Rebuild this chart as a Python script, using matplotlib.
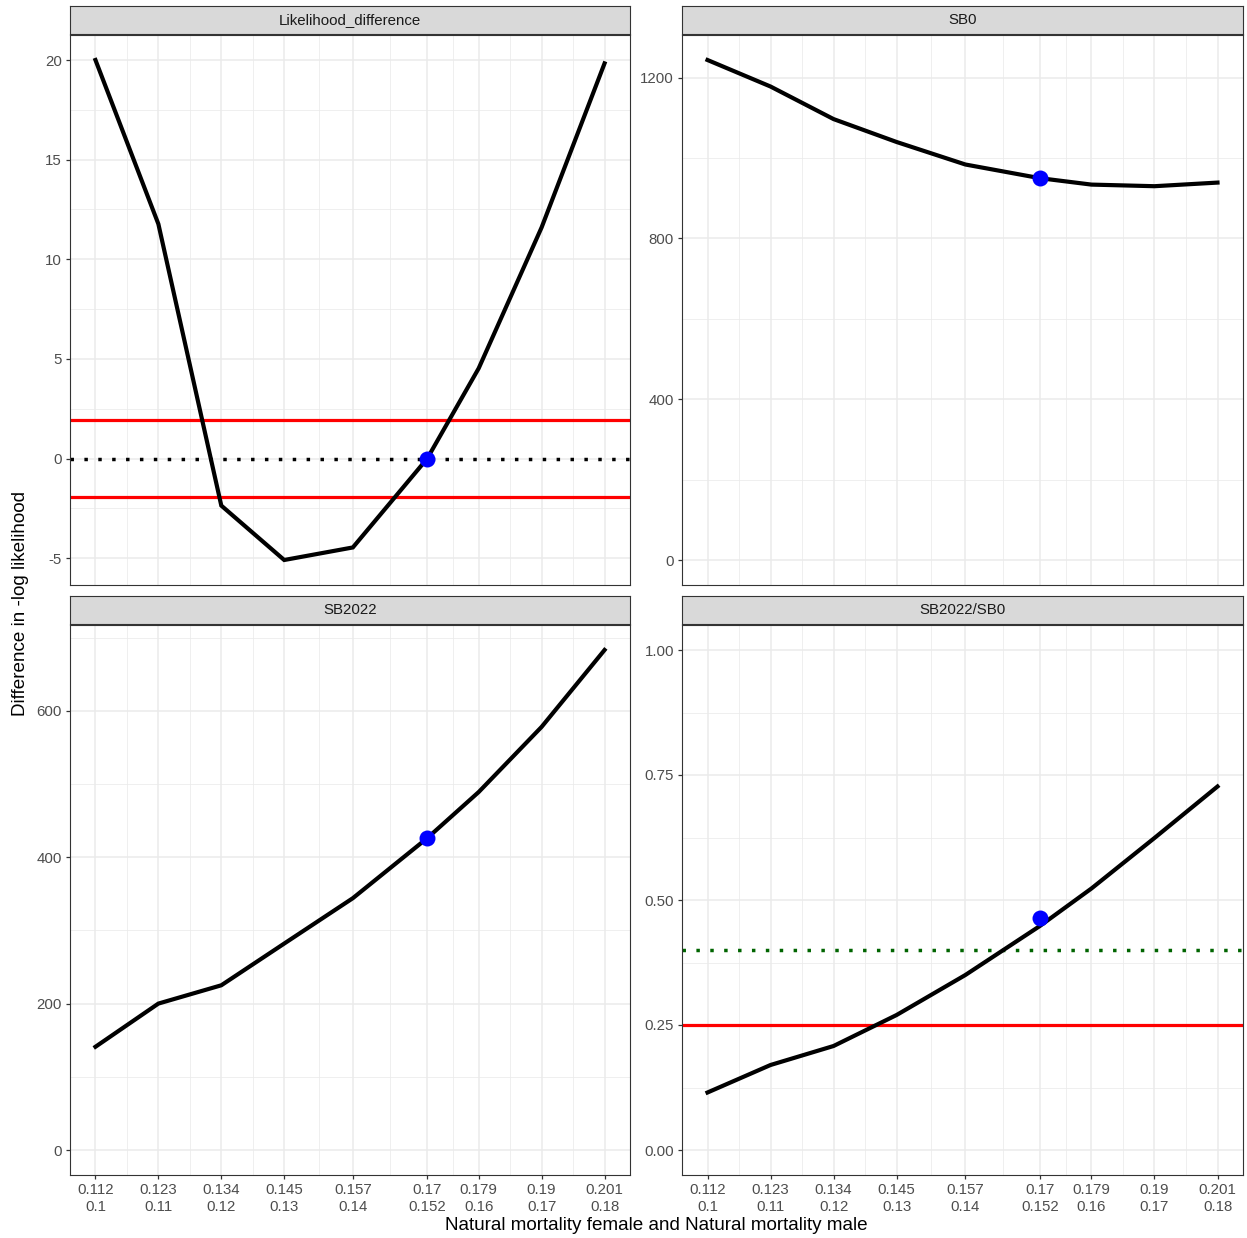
import numpy as np
import matplotlib
matplotlib.use("Agg")
import matplotlib.pyplot as plt
from matplotlib.ticker import FixedLocator, FixedFormatter

plt.rcParams['font.family'] = ['Liberation Sans', 'DejaVu Sans']

# ---------------- data ----------------
m_female = [0.112, 0.123, 0.134, 0.145, 0.157, 0.17, 0.179, 0.19, 0.201]
m_female_labels = ["0.112", "0.123", "0.134", "0.145", "0.157", "0.17", "0.179", "0.19", "0.201"]
m_male_labels = ["0.1", "0.11", "0.12", "0.13", "0.14", "0.152", "0.16", "0.17", "0.18"]

likelihood_diff = [20.0, 11.77, -2.36, -5.09, -4.46, 0.0, 4.53, 11.6, 19.83]
sb0 = [1244, 1178, 1097, 1040, 984, 950, 934, 930, 939]
sb2022 = [141, 200, 225, 282, 344, 426, 489, 578, 683]
sb_ratio = [0.115, 0.170, 0.208, 0.270, 0.350, 0.448, 0.523, 0.624, 0.727]

base_x = 0.17
base_values = {"Likelihood_difference": 0.0, "SB0": 950, "SB2022": 426, "SB2022/SB0": 0.464}

panel_titles = ["Likelihood_difference", "SB0", "SB2022", "SB2022/SB0"]
panel_series = [likelihood_diff, sb0, sb2022, sb_ratio]
y_breaks = [[-5, 0, 5, 10, 15, 20], [0, 400, 800, 1200], [0, 200, 400, 600],
            [0.0, 0.25, 0.5, 0.75, 1.0]]
y_break_labels = [["-5", "0", "5", "10", "15", "20"], ["0", "400", "800", "1200"],
                  ["0", "200", "400", "600"], ["0.00", "0.25", "0.50", "0.75", "1.00"]]
y_include = [[], [0], [0], [0, 1]]
chi_cut = 1.92
ratio_target = 0.4
ratio_limit = 0.25

# ---------------- layout ----------------
W, H = 1247, 1238
fig = plt.figure(figsize=(W / 100, H / 100), dpi=100)

def fx(px):
    return px / W

def fy(py):
    return 1 - py / H

panel_px = [  # (left, top, right, bottom) in pixels
    (70, 35, 630, 585),
    (682, 35, 1243, 585),
    (70, 625, 630, 1175),
    (682, 625, 1243, 1175),
]
strip_h = 28

border_col = '#333333'
grid_col = '#EBEBEB'
text_col = '#4D4D4D'
tick_fs = 10.8
title_fs = 13.6

def minor_between(breaks):
    b = list(breaks)
    mids = [(b[i] + b[i + 1]) / 2 for i in range(len(b) - 1)]
    step = b[1] - b[0]
    return [b[0] - step / 2] + mids + [b[-1] + (b[-1] - b[-2]) / 2]

xr = max(m_female) - min(m_female)
xlim = (min(m_female) - 0.05 * xr, max(m_female) + 0.05 * xr)

for i, (title, ys) in enumerate(zip(panel_titles, panel_series)):
    l, t, r, b = panel_px[i]
    ax = fig.add_axes([fx(l), fy(b), fx(r - l), (b - t) / H])
    vals = list(ys) + y_include[i]
    lo, hi = min(vals), max(vals)
    rng = hi - lo
    ax.set_xlim(*xlim)
    ax.set_ylim(lo - 0.05 * rng, hi + 0.05 * rng)

    # grid
    for xv in minor_between(m_female):
        ax.axvline(xv, color=grid_col, lw=0.55, zorder=0)
    for xv in m_female:
        ax.axvline(xv, color=grid_col, lw=1.1, zorder=0)
    for yv in minor_between(y_breaks[i]):
        ax.axhline(yv, color=grid_col, lw=0.55, zorder=0)
    for yv in y_breaks[i]:
        ax.axhline(yv, color=grid_col, lw=1.1, zorder=0)

    # reference lines
    if title == "Likelihood_difference":
        ax.axhline(chi_cut, color='red', lw=2.3, zorder=2)
        ax.axhline(-chi_cut, color='red', lw=2.3, zorder=2)
        ax.axhline(0, color='black', lw=2.5, ls=(0, (1, 3.0)), zorder=2)
    if title == "SB2022/SB0":
        ax.axhline(ratio_limit, color='red', lw=2.3, zorder=2)
        ax.axhline(ratio_target, color='#006400', lw=2.5, ls=(0, (1, 3.0)), zorder=2)

    ax.plot(m_female, ys, color='black', lw=3.0, zorder=3, solid_joinstyle='miter')
    ax.plot([base_x], [base_values[title]], 'o', color='#0000FF', ms=11.5, zorder=4,
            markeredgewidth=0)

    ax.yaxis.set_major_locator(FixedLocator(y_breaks[i]))
    ax.yaxis.set_major_formatter(FixedFormatter(y_break_labels[i]))
    ax.tick_params(axis='y', length=3.2, width=0.9, color=border_col, labelcolor=text_col,
                   labelsize=tick_fs, pad=2.5)
    ax.xaxis.set_major_locator(FixedLocator(m_female))
    if i >= 2:
        ax.xaxis.set_major_formatter(FixedFormatter(
            [f"{a}\n{b_}" for a, b_ in zip(m_female_labels, m_male_labels)]))
        ax.tick_params(axis='x', length=3.2, width=0.9, color=border_col, labelcolor=text_col,
                       labelsize=tick_fs, pad=2.5)
        for lab in ax.get_xticklabels():
            lab.set_multialignment('center')
            lab.set_linespacing(1.25)
    else:
        ax.tick_params(axis='x', length=0, labelbottom=False)
    for s in ax.spines.values():
        s.set_color(border_col)
        s.set_linewidth(0.8)
        s.set_zorder(5)

    # strip
    sax = fig.add_axes([fx(l), fy(t - 1), fx(r - l), strip_h / H])
    sax.set_facecolor('#D9D9D9')
    sax.set_xticks([])
    sax.set_yticks([])
    for s in sax.spines.values():
        s.set_color(border_col)
        s.set_linewidth(0.8)
    sax.text(0.5, 0.5, title, ha='center', va='center', fontsize=tick_fs, color='#1A1A1A',
             transform=sax.transAxes)

fig.text(fx(656), fy(1225), "Natural mortality female and Natural mortality male",
         ha='center', va='center', fontsize=title_fs, color='black')
fig.text(fx(21), fy(604), "Difference in -log likelihood", ha='center', va='center',
         rotation=90, fontsize=title_fs, color='black')

fig.savefig("out.png", dpi=100, facecolor='white')
